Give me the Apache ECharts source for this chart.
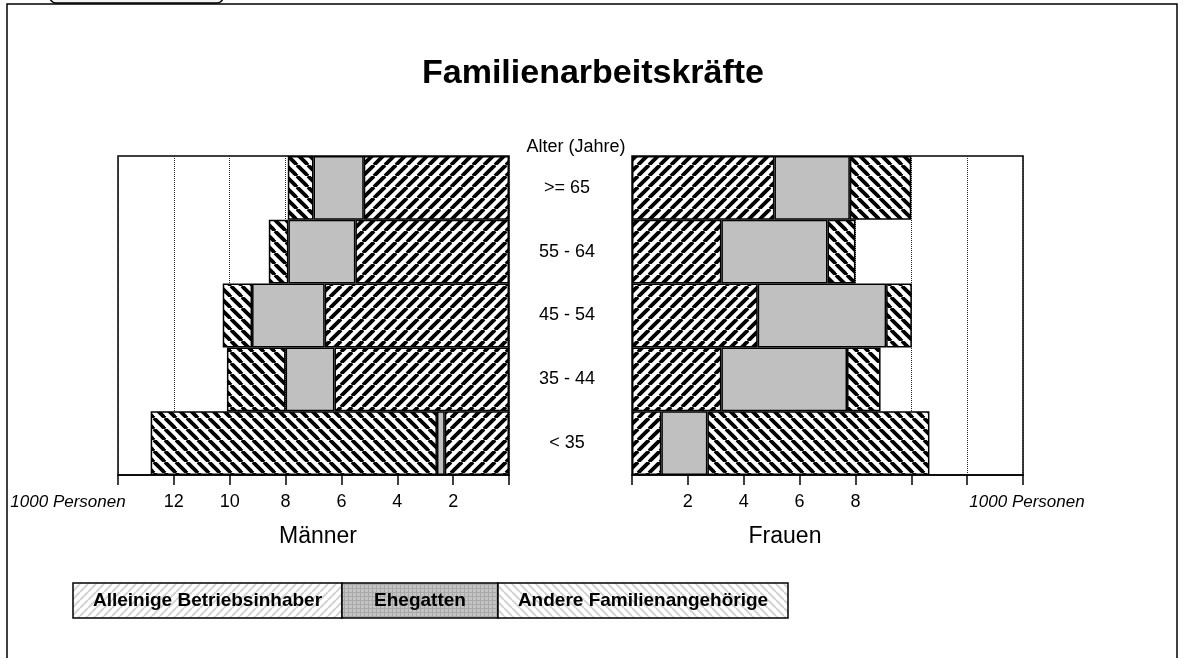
<!DOCTYPE html>
<html>
<head>
<meta charset="utf-8">
<title>Familienarbeitskräfte</title>
<script src="https://cdn.jsdelivr.net/npm/echarts@6/dist/echarts.min.js"></script>
<style>
  html, body { margin: 0; padding: 0; background: #fff; }
  #chart { width: 1186px; height: 658px; }
</style>
</head>
<body>
<div id="chart"></div>
<script>
// age groups, bottom to top
const ageGroups = ['< 35', '35 - 44', '45 - 54', '55 - 64', '>= 65'];

// Männer, 1000 Personen
const menOwner = [2.3, 6.25, 6.6, 5.5, 5.2];
const menSpouse = [0.28, 1.75, 2.6, 2.4, 1.8];
const menOther = [10.25, 2.1, 1.05, 0.7, 0.92];

// Frauen, 1000 Personen
const womenOwner = [1.05, 3.2, 4.5, 3.2, 5.1];
const womenSpouse = [1.65, 4.5, 4.6, 3.8, 2.7];
const womenOther = [7.95, 1.2, 0.92, 1.0, 2.2];

const menTickLabels = [2, 4, 6, 8, 10, 12];
const womenTickLabels = [2, 4, 6, 8];

const legendNames = ['Alleinige Betriebsinhaber', 'Ehegatten', 'Andere Familienangehörige'];

const FONT = '"Liberation Sans", Arial, sans-serif';

// diagonal hatch as a repeating canvas
function hatch(dir, size, width, color, bg) {
  const c = document.createElement('canvas');
  c.width = c.height = size;
  const g = c.getContext('2d');
  g.fillStyle = bg;
  g.fillRect(0, 0, size, size);
  g.strokeStyle = color;
  g.lineWidth = width;
  for (let k = -1; k <= 1; k++) {
    g.beginPath();
    if (dir === '/') {
      g.moveTo(k * size, size);
      g.lineTo(k * size + size, 0);
    } else {
      g.moveTo(k * size, 0);
      g.lineTo(k * size + size, size);
    }
    g.stroke();
  }
  return c;
}

function gridPattern() {
  const c = document.createElement('canvas');
  c.width = c.height = 4;
  const g = c.getContext('2d');
  g.fillStyle = '#c4c4c4';
  g.fillRect(0, 0, 4, 4);
  g.fillStyle = '#a9a9a9';
  g.fillRect(0, 0, 4, 1);
  g.fillRect(0, 0, 1, 4);
  return c;
}

const ownerFill = { image: hatch('/', 11, 3.8, '#000', '#fff'), repeat: 'repeat' };
const otherFill = { image: hatch('\\', 11, 3.8, '#000', '#fff'), repeat: 'repeat' };
const spouseFill = '#c0c0c0';

const legOwnerFill = { image: hatch('/', 8, 2, '#d4d4d4', '#fff'), repeat: 'repeat' };
const legOtherFill = { image: hatch('\\', 8, 2, '#d4d4d4', '#fff'), repeat: 'repeat' };
const legSpouseFill = { image: gridPattern(), repeat: 'repeat' };

const chart = echarts.init(document.getElementById('chart'));

function barSeries(name, data, fill, idx, stack) {
  return {
    name: name,
    type: 'bar',
    stack: stack,
    xAxisIndex: idx,
    yAxisIndex: idx,
    data: data,
    barWidth: '100%',
    barCategoryGap: 0,
    silent: true,
    itemStyle: {
      color: fill,
      borderColor: '#000',
      borderWidth: 1.5
    }
  };
}

const xCommon = {
  type: 'value',
  min: 0,
  max: 14,
  interval: 2,
  axisLine: { show: true, lineStyle: { color: '#000', width: 1.5 } },
  axisTick: { show: true, length: 10, lineStyle: { color: '#000', width: 1.5 } },
  splitLine: { show: true, lineStyle: { color: '#222', width: 1, type: 'dotted' } },
  axisLabel: { color: '#000', fontSize: 18, fontFamily: FONT, margin: 18 }
};

const option = {
  backgroundColor: '#fff',
  animation: false,
  title: {
    text: 'Familienarbeitskräfte',
    left: 'center',
    top: 52,
    textStyle: { fontFamily: FONT, fontSize: 34, fontWeight: 'bold', color: '#000' }
  },
  grid: [
    { left: 118, top: 156, width: 391, height: 319, show: true, borderColor: '#000', borderWidth: 1.5, backgroundColor: 'transparent' },
    { left: 632, top: 156, width: 391, height: 319, show: true, borderColor: '#000', borderWidth: 1.5, backgroundColor: 'transparent' }
  ],
  xAxis: [
    Object.assign({}, xCommon, {
      gridIndex: 0,
      inverse: true,
      axisLabel: Object.assign({}, xCommon.axisLabel, {
        formatter: v => (menTickLabels.indexOf(v) >= 0 ? String(v) : '')
      })
    }),
    Object.assign({}, xCommon, {
      gridIndex: 1,
      axisLabel: Object.assign({}, xCommon.axisLabel, {
        formatter: v => (womenTickLabels.indexOf(v) >= 0 ? String(v) : '')
      })
    })
  ],
  yAxis: [
    {
      type: 'category',
      gridIndex: 0,
      position: 'right',
      data: ageGroups,
      axisLine: { show: false },
      axisTick: { show: false },
      splitLine: { show: false },
      axisLabel: { color: '#000', fontSize: 18, fontFamily: FONT, align: 'center', margin: 58 }
    },
    {
      type: 'category',
      gridIndex: 1,
      data: ageGroups,
      axisLine: { show: false },
      axisTick: { show: false },
      splitLine: { show: false },
      axisLabel: { show: false }
    }
  ],
  series: [
    barSeries(legendNames[0], menOwner, ownerFill, 0, 'men'),
    barSeries(legendNames[1], menSpouse, spouseFill, 0, 'men'),
    barSeries(legendNames[2], menOther, otherFill, 0, 'men'),
    barSeries(legendNames[0], womenOwner, ownerFill, 1, 'women'),
    barSeries(legendNames[1], womenSpouse, spouseFill, 1, 'women'),
    barSeries(legendNames[2], womenOther, otherFill, 1, 'women')
  ],
  graphic: [
    // outer frame and the cut-off tab at the top
    { type: 'rect', shape: { x: 7, y: 4, width: 1170, height: 700 }, style: { fill: 'none', stroke: '#000', lineWidth: 1.5 }, z: 1 },
    { type: 'rect', shape: { x: 50, y: -20, width: 173, height: 23, r: 6 }, style: { fill: '#f4f4f4', stroke: '#000', lineWidth: 1.5 }, z: 1 },
    { type: 'text', x: 576, y: 147, style: { text: 'Alter (Jahre)', fontSize: 18, fontFamily: FONT, fill: '#000', align: 'center', verticalAlign: 'middle' } },
    { type: 'text', x: 68, y: 502, style: { text: '1000 Personen', fontSize: 17, fontStyle: 'italic', fontFamily: FONT, fill: '#000', align: 'center', verticalAlign: 'middle' } },
    { type: 'text', x: 1027, y: 502, style: { text: '1000 Personen', fontSize: 17, fontStyle: 'italic', fontFamily: FONT, fill: '#000', align: 'center', verticalAlign: 'middle' } },
    { type: 'text', x: 318, y: 537, style: { text: 'Männer', fontSize: 23, fontFamily: FONT, fill: '#000', align: 'center', verticalAlign: 'middle' } },
    { type: 'text', x: 785, y: 537, style: { text: 'Frauen', fontSize: 23, fontFamily: FONT, fill: '#000', align: 'center', verticalAlign: 'middle' } },
    // legend boxes
    { type: 'rect', shape: { x: 73, y: 583, width: 269, height: 35 }, style: { fill: legOwnerFill, stroke: '#000', lineWidth: 1.5 } },
    { type: 'rect', shape: { x: 342, y: 583, width: 156, height: 35 }, style: { fill: legSpouseFill, stroke: '#000', lineWidth: 1.5 } },
    { type: 'rect', shape: { x: 498, y: 583, width: 290, height: 35 }, style: { fill: legOtherFill, stroke: '#000', lineWidth: 1.5 } },
    { type: 'text', x: 207.5, y: 601, z: 10, style: { text: legendNames[0], fontSize: 19, fontWeight: 'bold', fontFamily: FONT, fill: '#000', align: 'center', verticalAlign: 'middle' } },
    { type: 'text', x: 420, y: 601, z: 10, style: { text: legendNames[1], fontSize: 19, fontWeight: 'bold', fontFamily: FONT, fill: '#000', align: 'center', verticalAlign: 'middle' } },
    { type: 'text', x: 643, y: 601, z: 10, style: { text: legendNames[2], fontSize: 19, fontWeight: 'bold', fontFamily: FONT, fill: '#000', align: 'center', verticalAlign: 'middle' } }
  ]
};

chart.setOption(option);

window.addEventListener('resize', () => {
  chart.resize();
});
</script>
</body>
</html>
